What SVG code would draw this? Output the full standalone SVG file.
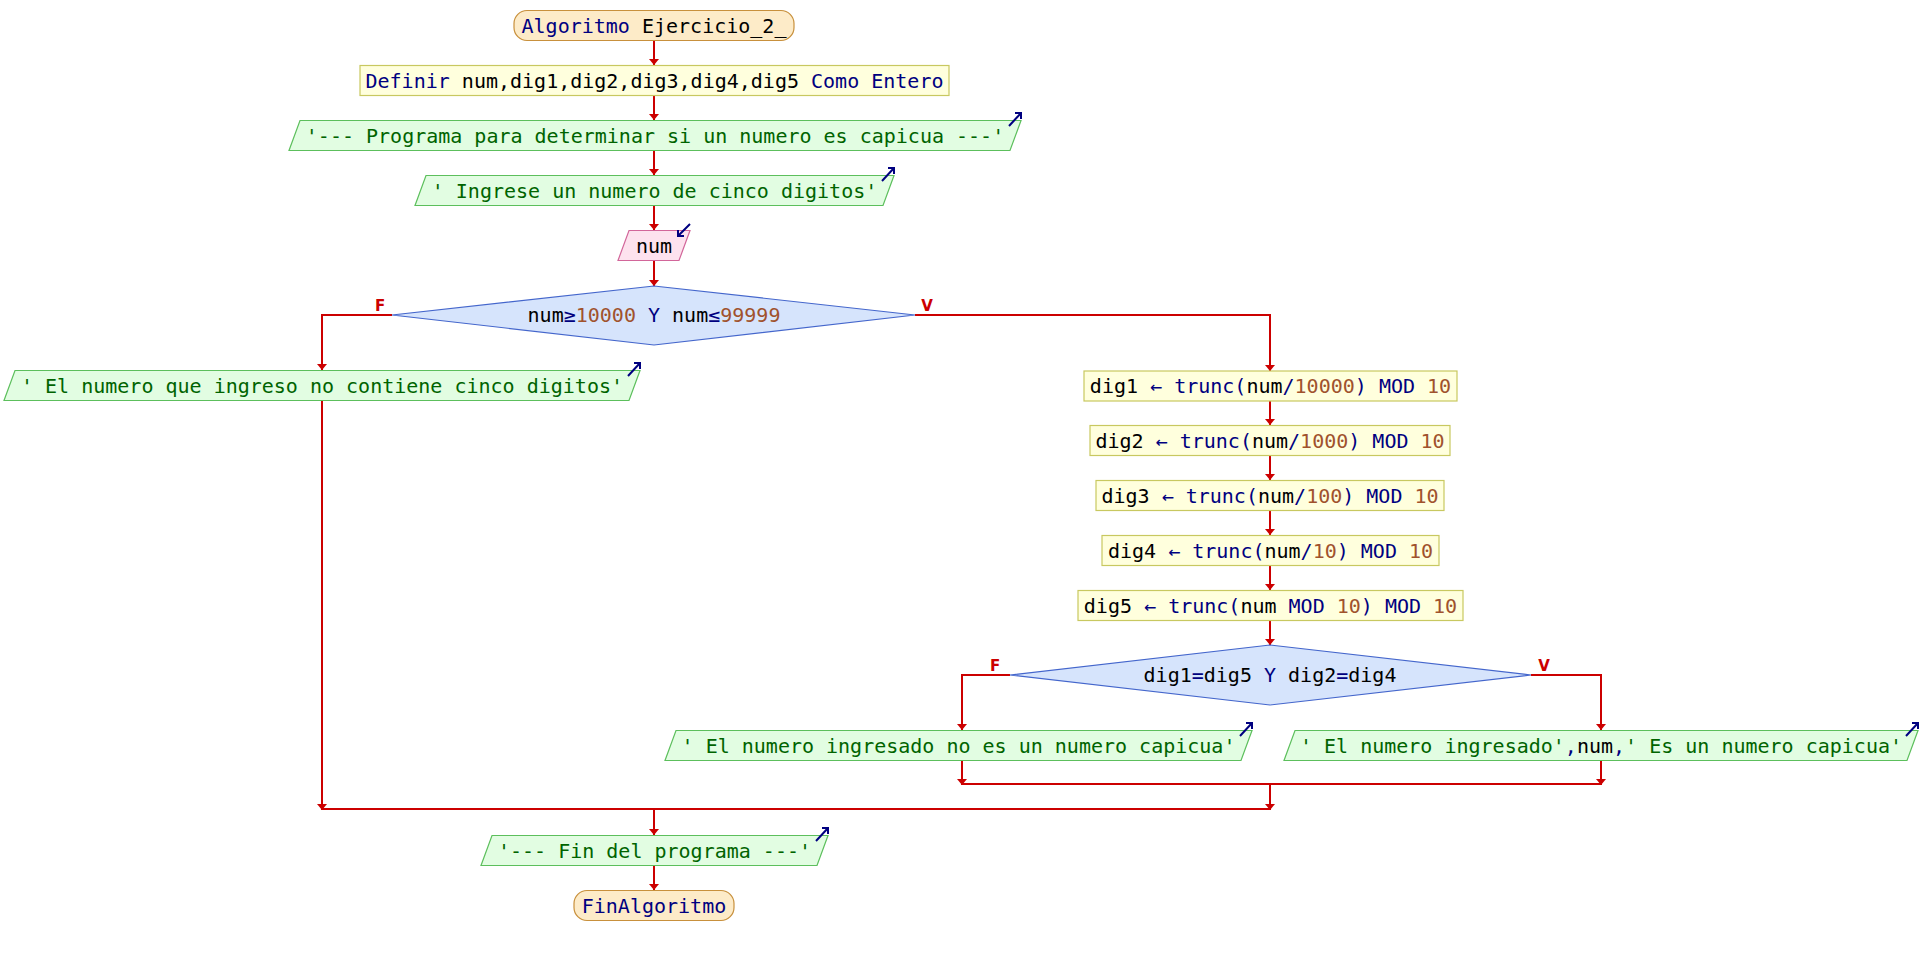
<svg xmlns="http://www.w3.org/2000/svg" width="1924" height="955" viewBox="0 0 1924 955">
<defs>
<style>
text{font-family:"DejaVu Sans Mono","Liberation Mono",monospace;font-size:20px;text-anchor:middle;fill:#000}
.kw{fill:#000080}.num{fill:#a0522d}.str{fill:#006400}
.lbl{font-family:"DejaVu Sans","Liberation Sans",sans-serif;font-size:15px;font-weight:bold;fill:#cc0000}
.term{fill:#fdebc8;stroke:#c8903c;stroke-width:1.2}
.proc{fill:#ffffdd;stroke:#c8c860;stroke-width:1.2}
.out{fill:#e2fde2;stroke:#5cbf5c;stroke-width:1.2}
.inp{fill:#fde2ee;stroke:#d2669a;stroke-width:1.2}
.dec{fill:#d6e4fc;stroke:#4466cc;stroke-width:1.2}
.con{fill:none;stroke:#cc0000;stroke-width:2}
.icon{fill:none;stroke:#000080;stroke-width:2}
</style>
<marker id="ah" markerWidth="6" markerHeight="10" viewBox="0 0 6 10" refX="6" refY="5" orient="auto" markerUnits="userSpaceOnUse"><path d="M0,0 L6,5 L0,10 z" fill="#cc0000"/></marker>
<g id="icoOut"><path class="icon" d="M-12,6 L0,-7 M-6,-7 L0,-7 L0,-1"/></g>
<g id="icoIn"><path class="icon" d="M0,-6 L-12,6 M-12,0 L-12,6 L-6,6"/></g>
</defs>

<g id="connectors">
<path class="con" d="M654,41 V65" marker-end="url(#ah)"/>
<path class="con" d="M654,96 V120" marker-end="url(#ah)"/>
<path class="con" d="M654,151 V175" marker-end="url(#ah)"/>
<path class="con" d="M654,206 V230" marker-end="url(#ah)"/>
<path class="con" d="M654,261 V286" marker-end="url(#ah)"/>
<path class="con" d="M392,315 H322 V370" marker-end="url(#ah)"/>
<path class="con" d="M915,315 H1270 V371" marker-end="url(#ah)"/>
<path class="con" d="M1270,401 V425" marker-end="url(#ah)"/>
<path class="con" d="M1270,456 V480" marker-end="url(#ah)"/>
<path class="con" d="M1270,511 V535" marker-end="url(#ah)"/>
<path class="con" d="M1270,566 V590" marker-end="url(#ah)"/>
<path class="con" d="M1270,621 V645" marker-end="url(#ah)"/>
<path class="con" d="M1010,675 H962 V730" marker-end="url(#ah)"/>
<path class="con" d="M1531,675 H1601 V730" marker-end="url(#ah)"/>
<path class="con" d="M962,761 V785" marker-end="url(#ah)"/>
<path class="con" d="M1601,761 V785" marker-end="url(#ah)"/>
<path class="con" d="M962,784 H1601"/>
<path class="con" d="M1270,784 V810" marker-end="url(#ah)"/>
<path class="con" d="M322,400 V810" marker-end="url(#ah)"/>
<path class="con" d="M322,809 H1270"/>
<path class="con" d="M654,809 V835" marker-end="url(#ah)"/>
<path class="con" d="M654,866 V890" marker-end="url(#ah)"/>
<text class="lbl" x="380" y="311">F</text>
<text class="lbl" x="927" y="311">V</text>
<text class="lbl" x="995" y="671">F</text>
<text class="lbl" x="1544" y="671">V</text>
</g>

<g id="start">
<rect class="term" x="514" y="10.5" width="280" height="30" rx="13"/>
<text x="654" y="32.5"><tspan class="kw">Algoritmo</tspan> Ejercicio_2_</text>
</g>

<g id="definir">
<rect class="proc" x="360" y="65.5" width="589" height="30"/>
<text x="654.5" y="87.5"><tspan class="kw">Definir</tspan> num,dig1,dig2,dig3,dig4,dig5 <tspan class="kw">Como Entero</tspan></text>
</g>

<g id="msg1">
<polygon class="out" points="289,150.5 300,120.5 1021,120.5 1010,150.5"/>
<text class="str" x="655" y="142.5">'--- Programa para determinar si un numero es capicua ---'</text>
<use href="#icoOut" x="1021" y="120"/>
</g>

<g id="msg2">
<polygon class="out" points="415,205.5 426,175.5 894,175.5 883,205.5"/>
<text class="str" x="654.5" y="197.5">' Ingrese un numero de cinco digitos'</text>
<use href="#icoOut" x="894" y="175"/>
</g>

<g id="leer">
<polygon class="inp" points="618,260.5 629,230.5 690,230.5 679,260.5"/>
<text x="654" y="252.5">num</text>
<use href="#icoIn" x="690" y="230"/>
</g>

<g id="cond1">
<polygon class="dec" points="392,315 654,286 915,315 654,345"/>
<text x="654" y="322"><tspan>num</tspan><tspan class="kw">≥</tspan><tspan class="num">10000</tspan><tspan class="kw"> Y </tspan><tspan>num</tspan><tspan class="kw">≤</tspan><tspan class="num">99999</tspan></text>
</g>

<g id="msgNo5">
<polygon class="out" points="4,400.5 15,370.5 640,370.5 629,400.5"/>
<text class="str" x="322" y="392.5">' El numero que ingreso no contiene cinco digitos'</text>
<use href="#icoOut" x="640" y="370"/>
</g>

<g id="dig1">
<rect class="proc" x="1084" y="371" width="373" height="30"/>
<text x="1270.5" y="393">dig1 <tspan class="kw">← trunc(</tspan>num<tspan class="kw">/</tspan><tspan class="num">10000</tspan><tspan class="kw">) MOD </tspan><tspan class="num">10</tspan></text>
</g>
<g id="dig2">
<rect class="proc" x="1090" y="425.5" width="360" height="30"/>
<text x="1270" y="447.5">dig2 <tspan class="kw">← trunc(</tspan>num<tspan class="kw">/</tspan><tspan class="num">1000</tspan><tspan class="kw">) MOD </tspan><tspan class="num">10</tspan></text>
</g>
<g id="dig3">
<rect class="proc" x="1096" y="480.5" width="348" height="30"/>
<text x="1270" y="502.5">dig3 <tspan class="kw">← trunc(</tspan>num<tspan class="kw">/</tspan><tspan class="num">100</tspan><tspan class="kw">) MOD </tspan><tspan class="num">10</tspan></text>
</g>
<g id="dig4">
<rect class="proc" x="1102" y="535.5" width="337" height="30"/>
<text x="1270.5" y="557.5">dig4 <tspan class="kw">← trunc(</tspan>num<tspan class="kw">/</tspan><tspan class="num">10</tspan><tspan class="kw">) MOD </tspan><tspan class="num">10</tspan></text>
</g>
<g id="dig5">
<rect class="proc" x="1078" y="590.5" width="385" height="30"/>
<text x="1270.5" y="612.5">dig5 <tspan class="kw">← trunc(</tspan>num <tspan class="kw">MOD </tspan><tspan class="num">10</tspan><tspan class="kw">) MOD </tspan><tspan class="num">10</tspan></text>
</g>

<g id="cond2">
<polygon class="dec" points="1010,675 1270,645 1531,675 1270,705"/>
<text x="1270" y="682">dig1<tspan class="kw">=</tspan>dig5<tspan class="kw"> Y </tspan>dig2<tspan class="kw">=</tspan>dig4</text>
</g>

<g id="msgNo">
<polygon class="out" points="665,760.5 676,730.5 1252,730.5 1241,760.5"/>
<text class="str" x="958.5" y="752.5">' El numero ingresado no es un numero capicua'</text>
<use href="#icoOut" x="1252" y="730"/>
</g>

<g id="msgSi">
<polygon class="out" points="1284,760.5 1295,730.5 1918,730.5 1907,760.5"/>
<text x="1601" y="752.5"><tspan class="str">' El numero ingresado'</tspan><tspan class="kw">,</tspan>num<tspan class="kw">,</tspan><tspan class="str">' Es un numero capicua'</tspan></text>
<use href="#icoOut" x="1918" y="730"/>
</g>

<g id="msgFin">
<polygon class="out" points="481,865.5 492,835.5 828,835.5 817,865.5"/>
<text class="str" x="654.5" y="857.5">'--- Fin del programa ---'</text>
<use href="#icoOut" x="828" y="835"/>
</g>

<g id="end">
<rect class="term" x="574" y="890.5" width="160" height="30" rx="13"/>
<text class="kw" x="654" y="912.5">FinAlgoritmo</text>
</g>
</svg>
